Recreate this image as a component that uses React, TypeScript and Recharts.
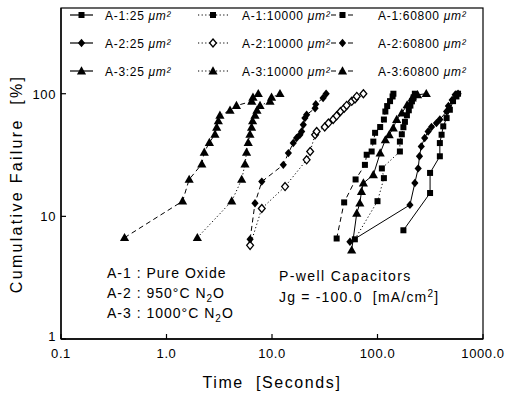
import React from 'react';
import { LineChart, Line, XAxis, YAxis } from 'recharts';

// ---- data (Time [s] vs Cumulative Failure [%]) ----
const xTicks = [0.1, 1, 10, 100, 1000];
const xTickLabels = ['0.1', '1.0', '10.0', '100.0', '1000.0'];
const yTicks = [1, 10, 100];
const yTickLabels = ['1', '10', '100'];

const pct15 = [6.7, 13.3, 20, 26.7, 33.3, 40, 46.7, 53.3, 60, 66.7, 73.3, 80, 86.7, 93.3, 100];

// A-3 : 60800 um2 (dashed, filled triangle)
const a3_60800_x = [0.40, 1.42, 1.64, 2.16, 2.28, 2.55, 2.88, 2.99, 3.10, 3.21, 4.0, 4.6, 6.43, 6.6, 7.41];
const a3_60800_y = pct15;
// A-3 : 10000 um2 (dotted, filled triangle)
const a3_10000_x = [1.96, 4.15, 5.16, 5.55, 5.74, 5.95, 6.18, 6.4, 6.55, 6.9, 7.2, 7.7, 9.57, 9.9, 11.9];
const a3_10000_y = pct15;
// A-2 : 60800 um2 (dashed, filled diamond)
const a2_60800_x = [6.2, 6.9, 8.0, 12.8, 14.3, 15.9, 17.1, 18.4, 19.1, 19.8, 20.5, 21.3, 25.6, 26.0, 30.5, 32.6];
const a2_60800_y = [6.5, 12.8, 19.2, 26.3, 32.8, 39.6, 43.5, 46.3, 49.2, 55.8, 63.3, 67.4, 76.2, 82.2, 92.3, 100];
// A-2 : 10000 um2 (dotted, open diamond)
const a2_10000_x = [6.2, 8.0, 13.3, 21.3, 23.0, 25.6, 26.5, 31.6, 34.3, 38.0, 41.0, 44.6, 48.3, 51.0, 57.0, 61.2, 63.6, 73.5];
const a2_10000_y = [5.8, 11.6, 17.5, 28.9, 33.8, 46.3, 49.2, 53.5, 57.6, 61.6, 66.0, 71.6, 76.2, 80.3, 86.7, 90.6, 95, 100];
// A-1 : 60800 um2 (dashed, filled square)
const a1_60800_x = [41, 48.3, 62, 76, 79, 88, 91.3, 94.9, 106, 115, 118.7, 123.5, 131.5, 139, 141.5];
const a1_60800_y = [6.6, 13.0, 20.0, 26.3, 31.8, 33.8, 40.7, 48, 53.5, 61.6, 71.6, 79.3, 87.0, 95, 100];
// A-1 : 10000 um2 (dotted, filled square)
const a1_10000_x = [61, 100, 115, 110, 163, 163, 170, 176, 182, 190, 198, 205, 212, 220, 226];
const a1_10000_y = [6.5, 13.3, 20.5, 24.6, 33.8, 40.7, 46.7, 53.3, 59, 66.7, 73.3, 80, 86.7, 93.3, 100];
// A-1 : 25 um2 (solid, filled square)
const a1_25_x = [176, 315, 315, 390, 390, 405, 420, 452, 485, 520, 560, 580];
const a1_25_y = [7.7, 15.5, 22.6, 30.9, 39.6, 46.3, 54.2, 63.3, 74, 87, 95, 100];
// A-2 : 25 um2 (solid, filled diamond)
const a2_25_x = [54.8, 203, 226, 243, 250, 260, 280, 302, 325, 362, 390, 452, 470, 510, 545, 580];
const a2_25_y = [6.2, 12.4, 18.7, 24.6, 30.9, 37.2, 43.5, 49.2, 53.5, 57.6, 61.6, 71.6, 79.3, 89, 98, 100];
// A-3 : 25 um2 (solid, filled triangle)
const a3_25_x = [56.9, 63.6, 68, 70.5, 73.5, 91.3, 106, 118.7, 129, 141, 152, 170, 191, 213, 240, 290];
const a3_25_y = [5.3, 10.6, 12.8, 15.9, 18.7, 21.8, 32.8, 42, 46.3, 52.4, 61.6, 69.6, 81, 92.3, 98, 100];

const zip = (xs: number[], ys: number[]) => xs.map((x, i) => ({ x, y: ys[i] }));

const FONT = '"Liberation Sans", Arial, Helvetica, sans-serif';

type Shape = 'square' | 'diamond' | 'odiamond' | 'triangle';

const marker = (shape: Shape, cx: number, cy: number, key?: string) => {
  switch (shape) {
    case 'square':
      return <rect key={key} x={cx - 3} y={cy - 3} width={6} height={6} fill="#000" />;
    case 'diamond':
      return <polygon key={key} points={`${cx},${cy - 4.2} ${cx + 3.6},${cy} ${cx},${cy + 4.2} ${cx - 3.6},${cy}`} fill="#000" />;
    case 'odiamond':
      return <polygon key={key} points={`${cx},${cy - 4} ${cx + 3.4},${cy} ${cx},${cy + 4} ${cx - 3.4},${cy}`} fill="#fff" stroke="#000" strokeWidth={1.3} />;
    case 'triangle':
    default:
      return <polygon key={key} points={`${cx},${cy - 4.8} ${cx + 4.6},${cy + 3.4} ${cx - 4.6},${cy + 3.4}`} fill="#000" />;
  }
};

const dotFor = (shape: Shape, id: string) => (p: any) => {
  if (p.cx == null || p.cy == null) return <g key={`${id}-${p.index}`} />;
  return marker(shape, p.cx, p.cy, `${id}-${p.index}`);
};

const SOLID = undefined;
const DOTTED = '1.2 2.4';
const DASHED = '5 3.5';

const series = [
  { id: 'a1_25', name: 'A-1:25', data: zip(a1_25_x, a1_25_y), shape: 'square' as Shape, dash: SOLID },
  { id: 'a2_25', name: 'A-2:25', data: zip(a2_25_x, a2_25_y), shape: 'diamond' as Shape, dash: SOLID },
  { id: 'a3_25', name: 'A-3:25', data: zip(a3_25_x, a3_25_y), shape: 'triangle' as Shape, dash: SOLID },
  { id: 'a1_10000', name: 'A-1:10000', data: zip(a1_10000_x, a1_10000_y), shape: 'square' as Shape, dash: DOTTED },
  { id: 'a2_10000', name: 'A-2:10000', data: zip(a2_10000_x, a2_10000_y), shape: 'odiamond' as Shape, dash: DOTTED },
  { id: 'a3_10000', name: 'A-3:10000', data: zip(a3_10000_x, a3_10000_y), shape: 'triangle' as Shape, dash: DOTTED },
  { id: 'a1_60800', name: 'A-1:60800', data: zip(a1_60800_x, a1_60800_y), shape: 'square' as Shape, dash: DASHED },
  { id: 'a2_60800', name: 'A-2:60800', data: zip(a2_60800_x, a2_60800_y), shape: 'diamond' as Shape, dash: DASHED },
  { id: 'a3_60800', name: 'A-3:60800', data: zip(a3_60800_x, a3_60800_y), shape: 'triangle' as Shape, dash: DASHED },
];

const XTick = (props: any) => {
  const { x, y, payload } = props;
  const idx = xTicks.indexOf(payload.value);
  return (
    <g>
      <line x1={x} y1={y} x2={x} y2={y - 5} stroke="#000" strokeWidth={1.2} />
      <text x={x} y={y + 19} textAnchor="middle" fontSize={13} fontFamily={FONT} letterSpacing={0.6} fill="#000">
        {idx >= 0 ? xTickLabels[idx] : String(payload.value)}
      </text>
    </g>
  );
};

const YTick = (props: any) => {
  const { x, y, payload } = props;
  const idx = yTicks.indexOf(payload.value);
  return (
    <g>
      <line x1={x} y1={y} x2={x + 5} y2={y} stroke="#000" strokeWidth={1.2} />
      <text x={x - 5} y={y + (payload.value === 1 ? 2 : 5)} textAnchor="end" fontSize={13} fontFamily={FONT} letterSpacing={0.6} fill="#000">
        {idx >= 0 ? yTickLabels[idx] : String(payload.value)}
      </text>
    </g>
  );
};

const legendCols = [
  { x1: 70, x2: 93, tx: 105, dash: SOLID, label: '25' },
  { x1: 198, x2: 228, tx: 242, dash: DOTTED, label: '10000' },
  { x1: 331, x2: 354, tx: 378, dash: DASHED, label: '60800' },
];
const legendRows = [
  { y: 15, prefix: 'A-1', shapes: ['square', 'square', 'square'] as Shape[] },
  { y: 43, prefix: 'A-2', shapes: ['diamond', 'odiamond', 'diamond'] as Shape[] },
  { y: 71, prefix: 'A-3', shapes: ['triangle', 'triangle', 'triangle'] as Shape[] },
];

const Overlay = () => (
  <svg width={509} height={396} style={{ position: 'absolute', left: 0, top: 0, pointerEvents: 'none' }}>
    <rect x={61} y={8} width={422} height={331} fill="none" stroke="#000" strokeWidth={1.2} />
    <g fontFamily={FONT} fill="#000">
      {legendRows.map((r, ri) =>
        legendCols.map((c, ci) => (
          <g key={`lg-${ri}-${ci}`}>
            <line x1={c.x1} y1={r.y} x2={c.x2} y2={r.y} stroke="#000" strokeWidth={1.2} strokeDasharray={c.dash} />
            {marker(r.shapes[ci], (c.x1 + c.x2) / 2, r.y)}
            <text x={c.tx} y={r.y + 5} fontSize={12} letterSpacing={0.7}>
              {`${r.prefix}:${c.label} `}
              <tspan fontStyle="italic">μm²</tspan>
            </text>
          </g>
        ))
      )}
      <g fontSize={14} letterSpacing={1}>
        <text x={107} y={278}>A-1 : Pure Oxide</text>
        <text x={107} y={298}>
          A-2 : 950°C N<tspan fontSize={10} dy={4}>2</tspan><tspan dy={-4}>O</tspan>
        </text>
        <text x={107} y={318}>
          A-3 : 1000°C N<tspan fontSize={10} dy={4}>2</tspan><tspan dy={-4}>O</tspan>
        </text>
        <text x={279} y={281} letterSpacing={1.4}>P-well Capacitors</text>
        <text x={279} y={302} letterSpacing={1.2} xmlSpace="preserve">
          Jg = -100.0  [mA/cm<tspan fontSize={10} dy={-5}>2</tspan><tspan dy={5}>]</tspan>
        </text>
      </g>
      <text x={272} y={388} textAnchor="middle" fontSize={16} letterSpacing={1.6} xmlSpace="preserve">Time  [Seconds]</text>
      <text
        transform="translate(22,184) rotate(-90)"
        textAnchor="middle"
        fontSize={16}
        letterSpacing={2.3}
        xmlSpace="preserve"
      >
        Cumulative Failure  [%]
      </text>
    </g>
  </svg>
);

export default function App() {
  return (
    <div style={{ position: 'absolute', left: 0, top: 0, width: 509, height: 396, background: '#fff' }}>
      <LineChart width={509} height={396} margin={{ top: 8, right: 26, bottom: 0, left: 0 }}>
        <XAxis
          xAxisId="b"
          type="number"
          dataKey="x"
          scale="log"
          domain={[0.1, 1000]}
          ticks={xTicks}
          allowDataOverflow
          orientation="bottom"
          height={57}
          tickSize={0}
          tickMargin={0}
          tickLine={false}
          tick={<XTick />}
          axisLine={{ stroke: '#000', strokeWidth: 1.3 }}
          interval={0}
        />
        <YAxis
          yAxisId="l"
          type="number"
          dataKey="y"
          scale="log"
          domain={[1, 500]}
          ticks={yTicks}
          allowDataOverflow
          orientation="left"
          width={61}
          tickSize={0}
          tickMargin={0}
          tickLine={false}
          tick={<YTick />}
          axisLine={{ stroke: '#000', strokeWidth: 1.3 }}
          interval={0}
        />
        {series.map((s) => (
          <Line
            key={s.id}
            xAxisId="b"
            yAxisId="l"
            data={s.data}
            dataKey="y"
            name={s.name}
            type="linear"
            stroke="#000"
            strokeWidth={1}
            strokeDasharray={s.dash}
            dot={dotFor(s.shape, s.id)}
            activeDot={false}
            isAnimationActive={false}
            legendType="none"
          />
        ))}
      </LineChart>
      <Overlay />
    </div>
  );
}
